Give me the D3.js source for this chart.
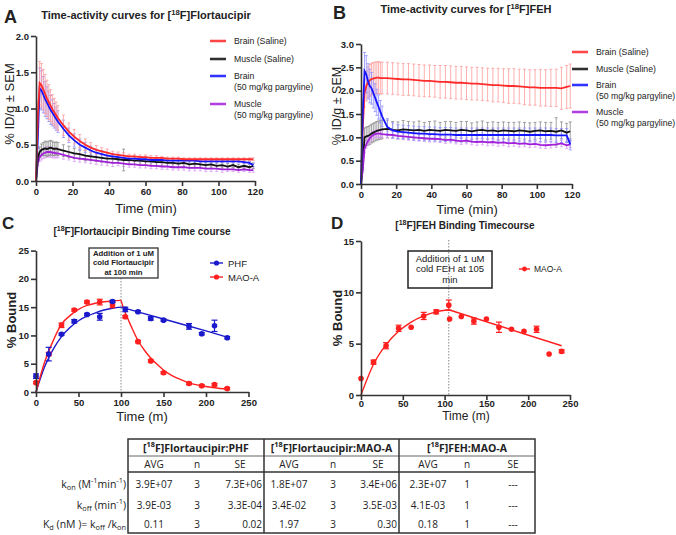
<!DOCTYPE html>
<html>
<head>
<meta charset="utf-8">
<script src="https://cdn.jsdelivr.net/npm/d3@7"></script>
<style>
  body { margin: 0; background: #fff; }
  svg { font-family: "Liberation Sans", Arial, sans-serif; }
  .ax .domain, .ax .tick line { stroke: #333; stroke-width: 1.6; }
  .ax .tick text { font-weight: bold; font-size: 9.5px; fill: #222; }
  .tbl { font-family: "Open Sans", sans-serif; font-size: 10px; fill: #222; }
</style>
</head>
<body>
<svg id="fig" width="676" height="535"></svg>
<script>
// frames (min) shared by panels A and B
var tA = [0,1,2,3,4,5,6,7,8,9,10,11,12,
  15,18,21,24,27,30,33,36,39,42,45,48,51,54,57,60,63,66,69,72,75,78,81,84,87,90,93,96,99,102,105,108,111,114,117,
  119];

// Panel A - [18F]Flortaucipir
var aBrainSal = [0,0.9,1.35,1.32,1.26,1.2,1.14,1.09,1.04,0.99,0.95,0.91,0.87,
  0.77,0.68,0.61,0.55,0.5,0.46,0.43,0.41,0.39,0.37,0.36,0.35,0.34,0.34,0.33,0.33,0.32,0.32,0.32,0.31,0.31,0.31,0.3,0.3,0.3,0.3,0.3,0.3,0.3,0.3,0.3,0.3,0.3,0.3,0.3,
  0.3];
var aBrainSalErr = [0,0.2,0.3,0.3,0.28,0.27,0.25,0.24,0.22,0.2,0.19,0.18,0.17,
  0.14,0.12,0.1,0.09,0.08,0.07,0.06,0.05,0.05,0.04,0.04,0.04,0.03,0.03,0.03,0.03,0.03,0.03,0.02,0.02,0.02,0.02,0.02,0.02,0.02,0.02,0.02,0.02,0.02,0.02,0.02,0.02,0.02,0.02,0.02,
  0.02];
var aMuscSal = [0,0.32,0.4,0.43,0.44,0.45,0.44,0.45,0.46,0.45,0.44,0.45,0.44,
  0.42,0.4,0.38,0.37,0.35,0.34,0.33,0.32,0.31,0.31,0.3,0.29,0.29,0.28,0.28,0.27,0.27,0.26,0.26,0.25,0.25,0.24,0.25,0.23,0.24,0.23,0.22,0.23,0.21,0.22,0.2,0.22,0.19,0.21,0.19,
  0.21];
var aMuscSalErr = [0,0.05,0.07,0.08,0.09,0.1,0.1,0.1,0.1,0.1,0.09,0.09,0.09,
  0.08,0.08,0.07,0.07,0.07,0.06,0.06,0.06,0.06,0.06,0.05,0.15,0.05,0.05,0.05,0.05,0.05,0.05,0.05,0.05,0.05,0.05,0.05,0.05,0.05,0.04,0.04,0.04,0.04,0.04,0.04,0.04,0.04,0.04,0.04,
  0.04];
var aBrainPar = [0,0.6,1.28,1.25,1.19,1.13,1.08,1.03,0.98,0.94,0.9,0.86,0.82,
  0.72,0.63,0.56,0.5,0.46,0.42,0.39,0.37,0.35,0.34,0.33,0.32,0.31,0.31,0.3,0.3,0.29,0.29,0.29,0.28,0.28,0.28,0.28,0.28,0.28,0.27,0.27,0.27,0.27,0.27,0.27,0.27,0.27,0.26,0.25,
  0.22];
var aBrainParErr = [0,0.15,0.28,0.27,0.25,0.24,0.22,0.21,0.2,0.18,0.17,0.16,0.15,
  0.12,0.1,0.09,0.08,0.07,0.06,0.05,0.05,0.04,0.04,0.04,0.03,0.03,0.03,0.03,0.03,0.03,0.02,0.02,0.02,0.02,0.02,0.02,0.02,0.02,0.02,0.02,0.02,0.02,0.02,0.02,0.02,0.02,0.02,0.02,
  0.02];
var aMuscPar = [0,0.25,0.33,0.36,0.38,0.39,0.4,0.4,0.4,0.39,0.39,0.38,0.38,
  0.36,0.34,0.32,0.31,0.3,0.29,0.28,0.27,0.26,0.25,0.25,0.24,0.23,0.23,0.22,0.22,0.21,0.21,0.2,0.2,0.19,0.19,0.19,0.18,0.18,0.18,0.17,0.17,0.17,0.16,0.16,0.16,0.15,0.16,0.15,
  0.15];
var aMuscParErr = [0,0.04,0.06,0.07,0.07,0.07,0.07,0.07,0.07,0.07,0.07,0.06,0.06,
  0.06,0.05,0.05,0.05,0.05,0.05,0.05,0.05,0.05,0.05,0.04,0.04,0.04,0.04,0.04,0.04,0.04,0.04,0.04,0.04,0.04,0.04,0.04,0.04,0.04,0.04,0.04,0.04,0.04,0.04,0.03,0.03,0.03,0.03,0.03,
  0.03];

// Panel B - [18F]FEH
var bBrainSal = [0,1.2,1.95,2.1,2.18,2.22,2.25,2.26,2.27,2.28,2.28,2.27,2.27,
  2.27,2.26,2.25,2.24,2.24,2.23,2.22,2.21,2.21,2.2,2.19,2.19,2.18,2.17,2.17,2.16,2.15,2.15,2.14,2.13,2.12,2.12,2.11,2.1,2.1,2.09,2.08,2.07,2.07,2.06,2.06,2.06,2.06,2.05,2.08,
  2.1];
var bBrainSalErr = [0,0.3,0.3,0.32,0.33,0.34,0.34,0.34,0.34,0.34,0.34,0.34,0.34,
  0.34,0.34,0.34,0.34,0.34,0.34,0.34,0.34,0.34,0.34,0.35,0.35,0.35,0.35,0.35,0.35,0.35,0.35,0.35,0.35,0.36,0.36,0.36,0.37,0.37,0.37,0.38,0.38,0.38,0.39,0.39,0.4,0.4,0.45,0.46,
  0.47];
var bMuscSal = [0,0.4,1.0,1.02,1.03,1.05,1.08,1.1,1.12,1.14,1.15,1.16,1.17,
  1.18,1.16,1.15,1.17,1.16,1.15,1.16,1.14,1.16,1.15,1.14,1.16,1.15,1.14,1.16,1.15,1.13,1.15,1.16,1.14,1.15,1.13,1.15,1.14,1.13,1.15,1.14,1.12,1.14,1.15,1.13,1.14,1.12,1.15,1.1,
  1.13];
var bMuscSalErr = [0,0.1,0.2,0.2,0.2,0.2,0.2,0.2,0.2,0.2,0.2,0.2,0.2,
  0.19,0.18,0.18,0.19,0.18,0.18,0.19,0.18,0.18,0.2,0.18,0.18,0.19,0.18,0.18,0.19,0.18,0.18,0.19,0.18,0.18,0.19,0.18,0.18,0.19,0.18,0.18,0.19,0.18,0.18,0.19,0.18,0.3,0.18,0.2,
  0.2];
var bBrainPar = [0,1.5,2.42,2.35,2.2,2.1,2.05,1.95,1.85,1.75,1.65,1.55,1.45,
  1.22,1.15,1.12,1.11,1.1,1.09,1.08,1.08,1.07,1.07,1.06,1.06,1.06,1.05,1.05,1.05,1.05,1.05,1.05,1.05,1.05,1.05,1.05,1.05,1.05,1.05,1.05,1.05,1.05,1.05,1.05,1.05,1.04,1.04,1.04,
  0.85];
var bBrainParErr = [0,0.3,0.4,0.4,0.38,0.36,0.34,0.32,0.3,0.28,0.26,0.24,0.22,
  0.18,0.16,0.15,0.15,0.15,0.15,0.15,0.15,0.15,0.15,0.15,0.15,0.15,0.15,0.15,0.15,0.15,0.15,0.15,0.15,0.15,0.15,0.15,0.15,0.15,0.15,0.15,0.15,0.15,0.15,0.15,0.15,0.15,0.15,0.15,
  0.12];
var bMuscPar = [0,0.3,0.75,0.85,0.92,0.98,1.02,1.05,1.07,1.08,1.08,1.08,1.07,
  1.06,1.05,1.03,1.02,1.01,1.0,0.99,0.98,0.97,0.97,0.96,0.94,0.95,0.93,0.92,0.93,0.91,0.9,0.91,0.89,0.9,0.88,0.89,0.87,0.88,0.86,0.87,0.85,0.86,0.84,0.83,0.84,0.85,0.87,0.83,
  0.85];
var bMuscParErr = [0,0.05,0.08,0.08,0.08,0.08,0.08,0.08,0.08,0.08,0.08,0.08,0.08,
  0.07,0.07,0.07,0.07,0.07,0.07,0.07,0.07,0.07,0.07,0.07,0.07,0.07,0.07,0.07,0.07,0.07,0.07,0.07,0.07,0.07,0.07,0.07,0.07,0.07,0.07,0.07,0.07,0.07,0.07,0.07,0.07,0.07,0.07,0.07,
  0.07];

var tacLegend = ["Brain (Saline)", "Muscle (Saline)", "Brain|(50 mg/kg pargyline)", "Muscle|(50 mg/kg pargyline)"];

// Panel C - binding time course
var cTime = [0,15,30,45,60,75,90,105,120,135,150,180,195,210,225];
var cPHF = [2.8,6.7,10.2,12.5,13.7,13.3,16.0,14.6,14.2,13.0,12.7,11.6,10.3,11.7,9.6];
var cPHFErr = [0.4,1.2,0.2,0.3,0.2,0.6,0.2,0.4,0.2,0.3,0.2,0.5,0.2,1.0,0.2];
var cMAO = [1.65,6.7,11.8,14.5,15.9,15.9,15.4,13.3,8.9,5.5,3.4,1.5,1.1,1.3,0.6];
var cMAOErr = [0.2,0.3,0.4,0.2,0.2,0.5,0.5,0.2,0.2,0.2,0.2,0.2,0.2,0.2,0.2];
var cFitAssocT = [0,10,20,30,40,50,60,70,80,90,100];
var cFitPHFAssoc = [0,4.4,7.5,9.8,11.4,12.6,13.4,14.0,14.5,14.8,15.0];
var cFitMAOAssoc = [0,5.2,9.0,12.0,13.5,14.6,15.3,15.7,15.95,16.1,16.2];
var cFitPHFDissT = [100,150,200,225];
var cFitPHFDiss = [15.0,12.9,10.8,9.7];
var cFitMAODissT = [100,103,107,112,120,128,135,143,150,160,170,180,195,210,225];
var cFitMAODiss = [16.2,14.8,13.3,11.6,9.1,7.3,6.0,4.8,3.9,2.9,2.2,1.6,1.1,0.75,0.5];

// Panel D
var dTime = [0,15,30,45,60,75,90,105,106,120,135,150,165,180,195,210,225,240];
var dMAO = [1.6,3.2,4.8,6.5,6.6,7.7,8.1,8.75,7.4,7.65,7.2,7.4,6.6,6.4,6.2,6.4,4.0,4.25];
var dMAOErr = [0,0.2,0.3,0.3,0,0.35,0.2,0.5,0,0,0.3,0,0.5,0,0,0.3,0,0.15];
var dFitAssocT = [0,15,30,45,60,75,90,105];
var dFitAssoc = [0,3.0,4.9,6.2,7.1,7.7,8.1,8.3];
var dFitDissT = [105,240];
var dFitDiss = [8.3,4.8];

// Table
var tblGroups = ["Flortaucipir:PHF", "Flortaucipir:MAO-A", "FEH:MAO-A"];
var tblCols = ["AVG", "n", "SE"];
var tblPHF = [["3.9E+07","3","7.3E+06"], ["3.9E-03","3","3.3E-04"], ["0.11","3","0.02"]];
var tblMAO = [["1.8E+07","3","3.4E+06"], ["3.4E-02","3","3.5E-03"], ["1.97","3","0.30"]];
var tblFEH = [["2.3E+07","1","---"], ["4.1E-03","1","---"], ["0.18","1","---"]];

var svg = d3.select("#fig");

// text with super/subscripts
function rich(t, parts, size) {
  var back = 0;
  parts.forEach(function(p) {
    var s = t.append("tspan");
    if (typeof p === "string") {
      s.text(p);
      if (back) s.attr("dy", back);
      back = 0;
    } else {
      var up = p.sup !== undefined;
      var d = up ? -size * 0.4 : size * 0.28;
      s.attr("font-size", size * 0.7).attr("dy", d + back).text(up ? p.sup : p.sub);
      back = -d;
    }
  });
}

function label(x, y, txt, size, weight, anchor) {
  return svg.append("text").attr("x", x).attr("y", y)
    .attr("font-size", size).attr("font-weight", weight || "normal")
    .attr("text-anchor", anchor || "middle").attr("fill", "#222").text(txt);
}

function axes(x, y, xTicks, yTicks, fy, pad) {
  svg.append("g").attr("class", "ax")
    .attr("transform", "translate(0," + y.range()[0] + ")")
    .call(d3.axisBottom(x).tickValues(xTicks).tickSize(5).tickSizeOuter(0).tickPadding(pad));
  svg.append("g").attr("class", "ax")
    .attr("transform", "translate(" + x.range()[0] + ",0)")
    .call(d3.axisLeft(y).tickValues(yTicks).tickSize(5).tickSizeOuter(0).tickPadding(2).tickFormat(fy));
}

// ---------- A & B : time-activity curves ----------
function tacPanel(x, y, series) {
  var g = svg.append("g");
  series.forEach(function(s) {
    var pts = tA.map(function(t, i) { return { t: t, v: s.v[i], e: s.e[i] }; });
    var eb = g.append("g").attr("stroke", s.light).attr("stroke-width", 0.8);
    pts.forEach(function(p) {
      if (!p.e) return;
      var xx = x(p.t);
      eb.append("line").attr("x1", xx).attr("x2", xx).attr("y1", y(p.v - p.e)).attr("y2", y(p.v + p.e));
      eb.append("line").attr("x1", xx - 1.5).attr("x2", xx + 1.5).attr("y1", y(p.v + p.e)).attr("y2", y(p.v + p.e));
      eb.append("line").attr("x1", xx - 1.5).attr("x2", xx + 1.5).attr("y1", y(p.v - p.e)).attr("y2", y(p.v - p.e));
    });
  });
  series.forEach(function(s) {
    var pts = tA.map(function(t, i) { return { t: t, v: s.v[i] }; });
    g.append("path").datum(pts)
      .attr("fill", "none").attr("stroke", s.col).attr("stroke-width", 1.8)
      .attr("d", d3.line().x(function(d) { return x(d.t); }).y(function(d) { return y(d.v); }));
  });
}

function tacLegendBlock(x0, ys, series) {
  series.forEach(function(s, i) {
    svg.append("line").attr("x1", x0).attr("x2", x0 + 16).attr("y1", ys[i]).attr("y2", ys[i])
      .attr("stroke", s.light).attr("stroke-width", 3);
    svg.append("line").attr("x1", x0).attr("x2", x0 + 16).attr("y1", ys[i]).attr("y2", ys[i])
      .attr("stroke", s.col).attr("stroke-width", 1.5);
    var lines = tacLegend[i].split("|");
    lines.forEach(function(l, k) {
      label(x0 + 24, ys[i] + 3 + k * 11, l, 8.7, "normal", "start");
    });
  });
}

var red = "#ff2b2b", redL = "#ff9a9a", blk = "#111", blkL = "#8a8a8a",
    blu = "#1515ff", bluL = "#8f8fff", pur = "#a21fd9", purL = "#d99af5";

// A
var xA = d3.scaleLinear().domain([0, 120]).range([36, 255]);
var yA = d3.scaleLinear().domain([0, 2]).range([181, 36]);
var serA = [
  { v: aMuscPar, e: aMuscParErr, col: pur, light: purL },
  { v: aMuscSal, e: aMuscSalErr, col: blk, light: blkL },
  { v: aBrainPar, e: aBrainParErr, col: blu, light: bluL },
  { v: aBrainSal, e: aBrainSalErr, col: red, light: redL }
];
tacPanel(xA, yA, serA);
axes(xA, yA, [0,20,40,60,80,100,120], [0,0.5,1,1.5,2], d3.format(".1f"), 2);
tacLegendBlock(210, [41, 59, 76, 104], [serA[3], serA[1], serA[2], serA[0]]);
label(4, 23, "A", 18, "bold", "start");
rich(label(146, 19, "", 11, "bold"), ["Time-activity curves for [", { sup: "18" }, "F]Flortaucipir"], 11);
label(146, 213, "Time (min)", 13);
label(0, 0, "% ID/g ± SEM", 13).attr("transform", "translate(14,104) rotate(-90)");

// B
var xB = d3.scaleLinear().domain([0, 120]).range([361, 572]);
var yB = d3.scaleLinear().domain([0, 3]).range([184, 44]);
var serB = [
  { v: bBrainSal, e: bBrainSalErr, col: red, light: redL },
  { v: bMuscSal, e: bMuscSalErr, col: blk, light: blkL },
  { v: bMuscPar, e: bMuscParErr, col: pur, light: purL },
  { v: bBrainPar, e: bBrainParErr, col: blu, light: bluL }
];
tacPanel(xB, yB, serB);
axes(xB, yB, [0,20,40,60,80,100,120], [0,0.5,1,1.5,2,2.5,3], d3.format(".1f"), 2);
tacLegendBlock(572, [52, 69, 85, 112], [serB[0], serB[1], serB[3], serB[2]]);
label(333, 19, "B", 18, "bold", "start");
rich(label(466, 13, "", 11, "bold"), ["Time-activity curves for [", { sup: "18" }, "F]FEH"], 11);
label(467, 214, "Time (min)", 13);
label(0, 0, "% ID/g ± SEM", 12.5).attr("transform", "translate(341,106) rotate(-90)");

// ---------- C & D : binding time courses ----------
function points(x, y, ts, vs, es, col) {
  var g = svg.append("g").attr("stroke", col).attr("fill", col);
  ts.forEach(function(t, i) {
    var xx = x(t), e = es[i], v = vs[i];
    if (e > 0) {
      g.append("line").attr("x1", xx).attr("x2", xx).attr("y1", y(v - e)).attr("y2", y(v + e)).attr("stroke-width", 1.2);
      [v - e, v + e].forEach(function(c) {
        g.append("line").attr("x1", xx - 3).attr("x2", xx + 3).attr("y1", y(c)).attr("y2", y(c)).attr("stroke-width", 1.2);
      });
    }
    g.append("circle").attr("cx", xx).attr("cy", y(v)).attr("r", 2.8).attr("stroke", "none");
  });
}

function fit(x, y, ts, vs, col, curve) {
  var pts = ts.map(function(t, i) { return [t, vs[i]]; });
  svg.append("path").datum(pts).attr("fill", "none").attr("stroke", col).attr("stroke-width", 1.4)
    .attr("d", d3.line().curve(curve).x(function(d) { return x(d[0]); }).y(function(d) { return y(d[1]); }));
}

var cBlue = "#1a1acc", cRed = "#ff1f1f";

// C
var xC = d3.scaleLinear().domain([0, 250]).range([36, 248.5]);
var yC = d3.scaleLinear().domain([0, 25]).range([392, 250.6]);
svg.append("line").attr("x1", xC(100)).attr("x2", xC(100)).attr("y1", 278).attr("y2", yC(0))
  .attr("stroke", "#888").attr("stroke-width", 1).attr("stroke-dasharray", "1.5,1.5");
fit(xC, yC, cFitAssocT, cFitPHFAssoc, cBlue, d3.curveMonotoneX);
fit(xC, yC, cFitPHFDissT, cFitPHFDiss, cBlue, d3.curveMonotoneX);
fit(xC, yC, cFitAssocT, cFitMAOAssoc, cRed, d3.curveMonotoneX);
fit(xC, yC, cFitMAODissT, cFitMAODiss, cRed, d3.curveMonotoneX);
points(xC, yC, cTime, cMAO, cMAOErr, cRed);
points(xC, yC, cTime, cPHF, cPHFErr, cBlue);
axes(xC, yC, [0,50,100,150,200,250], [0,5,10,15,20,25], d3.format("d"), 2);
svg.append("rect").attr("x", 89).attr("y", 248).attr("width", 69).attr("height", 30)
  .attr("fill", "#fff").attr("stroke", "#333").attr("stroke-width", 1.3);
["Addition of 1 uM", "cold Flortaucipir", "at 100 min"].forEach(function(l, i) {
  label(123.5, 256 + i * 9.3, l, 7.8, "bold");
});
[["PHF", cBlue], ["MAO-A", cRed]].forEach(function(d, i) {
  var yy = 263 + i * 14;
  svg.append("line").attr("x1", 210).attr("x2", 223).attr("y1", yy).attr("y2", yy).attr("stroke", d[1]).attr("stroke-width", 1.4);
  svg.append("circle").attr("cx", 216.5).attr("cy", yy).attr("r", 2.6).attr("fill", d[1]);
  label(228, yy + 3.5, d[0], 9.5, "normal", "start");
});
label(2, 229, "C", 17, "bold", "start");
rich(label(142, 235, "", 10, "bold"), ["[", { sup: "18" }, "F]Flortaucipir Binding Time course"], 10);
label(142, 421, "Time (m)", 13);
label(0, 0, "% Bound", 13, "bold").attr("transform", "translate(16,320) rotate(-90)");

// D
var xD = d3.scaleLinear().domain([0, 250]).range([361, 570]);
var yD = d3.scaleLinear().domain([0, 15]).range([395, 241]);
svg.append("line").attr("x1", xD(105)).attr("x2", xD(105)).attr("y1", 240).attr("y2", yD(0))
  .attr("stroke", "#888").attr("stroke-width", 1).attr("stroke-dasharray", "1.5,1.5");
fit(xD, yD, dFitAssocT, dFitAssoc, cRed, d3.curveMonotoneX);
fit(xD, yD, dFitDissT, dFitDiss, cRed, d3.curveLinear);
points(xD, yD, dTime, dMAO, dMAOErr, cRed);
axes(xD, yD, [0,50,100,150,200,250], [0,5,10,15], d3.format("d"), 0);
svg.append("rect").attr("x", 408).attr("y", 251).attr("width", 84).attr("height", 37)
  .attr("fill", "none").attr("stroke", "#222").attr("stroke-width", 1.5);
["Addition of 1 uM", "cold FEH at 105", "min"].forEach(function(l, i) {
  label(450, 261.5 + i * 10.5, l, 9.5);
});
svg.append("line").attr("x1", 519).attr("x2", 530).attr("y1", 269).attr("y2", 269).attr("stroke", cRed).attr("stroke-width", 1.4);
svg.append("circle").attr("cx", 524.5).attr("cy", 269).attr("r", 2.4).attr("fill", cRed);
label(534, 272, "MAO-A", 8.5, "normal", "start");
label(331, 229, "D", 17, "bold", "start");
rich(label(465, 229, "", 10, "bold"), ["[", { sup: "18" }, "F]FEH Binding Timecourse"], 10);
label(466, 420, "Time (m)", 12);
label(0, 0, "% Bound", 13, "bold").attr("transform", "translate(342,318) rotate(-90)");

// ---------- Table ----------
var tb = svg.append("g").attr("class", "tbl");
var gx = [128, 264, 399, 535];
var ty = [439, 456, 472, 533];
tb.append("rect").attr("x", gx[0]).attr("y", ty[0]).attr("width", gx[3] - gx[0]).attr("height", ty[3] - ty[0])
  .attr("fill", "none").attr("stroke", "#333").attr("stroke-width", 1.5);
tb.append("line").attr("x1", gx[0]).attr("x2", gx[3]).attr("y1", ty[1]).attr("y2", ty[1]).attr("stroke", "#555").attr("stroke-width", 0.9);
tb.append("line").attr("x1", gx[0]).attr("x2", gx[3]).attr("y1", ty[2]).attr("y2", ty[2]).attr("stroke", "#333").attr("stroke-width", 1.5);
[gx[1], gx[2]].forEach(function(xx) {
  tb.append("line").attr("x1", xx).attr("x2", xx).attr("y1", ty[0]).attr("y2", ty[3]).attr("stroke", "#333").attr("stroke-width", 1.5);
});

var colOff = [[26, 69, 112, 134], [25, 69, 114, 133], [29, 68, 114, 133]];
var rowY = [487.5, 508.5, 527.5];
[tblPHF, tblMAO, tblFEH].forEach(function(rows, g) {
  var x0 = gx[g], off = colOff[g];
  var h = tb.append("text").attr("x", (gx[g] + gx[g + 1]) / 2).attr("y", 451.5).attr("text-anchor", "middle")
    .attr("font-weight", "bold").attr("font-size", 10.5);
  rich(h, ["[", { sup: "18" }, "F]" + tblGroups[g]], 10.5);
  tblCols.forEach(function(c, k) {
    tb.append("text").attr("x", x0 + off[k]).attr("y", 467.5).attr("text-anchor", "middle").text(c);
  });
  rows.forEach(function(r, i) {
    tb.append("text").attr("x", x0 + off[0]).attr("y", rowY[i]).attr("text-anchor", "middle").text(r[0]);
    tb.append("text").attr("x", x0 + off[1]).attr("y", rowY[i]).attr("text-anchor", "middle").text(r[1]);
    var dash = r[2] === "---";
    tb.append("text").attr("x", x0 + (dash ? off[2] : off[3])).attr("y", rowY[i])
      .attr("text-anchor", dash ? "middle" : "end").text(r[2]);
  });
});

var rowLabels = [
  ["k", { sub: "on" }, " (M", { sup: "-1" }, "min", { sup: "-1" }, ")"],
  ["k", { sub: "off" }, " (min", { sup: "-1" }, ")"],
  ["K", { sub: "d" }, " (nM )= k", { sub: "off" }, " /k", { sub: "on" }]
];
rowLabels.forEach(function(p, i) {
  rich(tb.append("text").attr("x", 126).attr("y", rowY[i]).attr("text-anchor", "end").attr("font-size", 10.5), p, 10.5);
});
</script>
</body>
</html>
